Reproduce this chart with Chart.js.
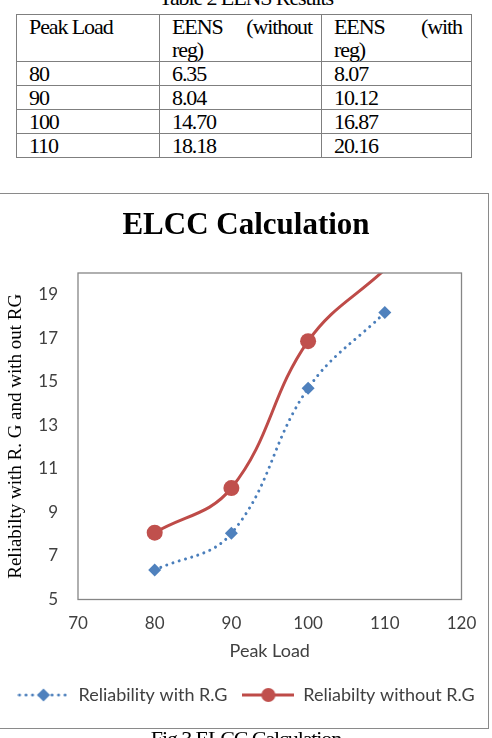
<!DOCTYPE html>
<html>
<head>
<meta charset="utf-8">
<script src="https://cdn.jsdelivr.net/npm/chart.js@4.4.1/dist/chart.umd.min.js"></script>
<style>
  html, body { margin: 0; padding: 0; background: #fff; }
  body { width: 492px; height: 738px; position: relative; overflow: hidden; }
  .cap {
    position: absolute; left: 0; width: 492px; text-align: center;
    font-family: "Liberation Serif", serif; font-size: 22px; line-height: 23px;
    letter-spacing: -1.1px; color: #000; white-space: nowrap;
  }
  #cap-top { top: -14.4px; }
  #cap-bot { top: 726.7px; }
  #eens {
    position: absolute; left: 16px; top: 14px; width: 455px;
    border-collapse: collapse; table-layout: fixed;
    font-family: "Liberation Serif", serif; font-size: 22px; letter-spacing: -1.1px; color: #000;
  }
  #eens td {
    border: 1.5px solid #7f7f7f; padding: 0 9px 0 12px; line-height: 23px;
    vertical-align: top; text-align: justify;
  }
  #eens tr.row td { height: 23px; }
  #box {
    position: absolute; left: -2px; top: 193px; width: 491px; height: 536px;
    border: 1.5px solid #8a8a8a; box-sizing: border-box;
  }
  #wrap { position: absolute; left: 0; top: 195px; width: 492px; height: 532px; }
</style>
</head>
<body>
<div class="cap" id="cap-top">Table 2 EENS Results</div>
<table id="eens">
  <colgroup><col style="width:143px"><col style="width:162px"><col style="width:150px"></colgroup>
  <tbody id="eens-body"></tbody>
</table>
<div id="box"></div>
<div id="wrap"><canvas id="elcc" width="492" height="532"></canvas></div>
<div class="cap" id="cap-bot">Fig 3 ELCC Calculation</div>

<script>
// 표 2 / 그림 3 데이터
const peakLoad = [80, 90, 100, 110];
const eensWithoutReg = [6.35, 8.04, 14.70, 18.18];   // 파란 점선: Reliability with R.G
const eensWithReg = [8.07, 10.12, 16.87, 20.16];     // 빨간 실선: Reliabilty without R.G
const tableHeads = ["Peak Load", "EENS (without reg)", "EENS (with reg)"];
const seriesNames = ["Reliability with R.G", "Reliabilty without R.G"];
const xTicks = [70, 80, 90, 100, 110, 120];
const yTicks = [5, 7, 9, 11, 13, 15, 17, 19];
const Y_MIN = 5, Y_MAX = 20;

const BLUE_LINE = "#4A7EBB", BLUE_MARK = "#4F81BD";
const RED_LINE = "#BE4B48", RED_MARK = "#C0504D";
const TICK_COLOR = "#404040";

// ---------- 표 ----------
function buildTable() {
  const body = document.getElementById("eens-body");
  const hd = document.createElement("tr");
  tableHeads.forEach((h) => {
    const td = document.createElement("td");
    td.textContent = h;
    hd.appendChild(td);
  });
  body.appendChild(hd);
  peakLoad.forEach((p, i) => {
    const tr = document.createElement("tr");
    tr.className = "row";
    [String(p), eensWithoutReg[i].toFixed(2), eensWithReg[i].toFixed(2)].forEach((t) => {
      const td = document.createElement("td");
      td.textContent = t;
      tr.appendChild(td);
    });
    body.appendChild(tr);
  });
}

// ---------- 범례 견본(선 + 마커) ----------
function swatch(kind) {
  const c = document.createElement("canvas");
  c.width = 52; c.height = 18;
  const g = c.getContext("2d");
  const cy = 9, cx = 26;
  g.lineWidth = 3;
  if (kind === "blue") {
    g.strokeStyle = BLUE_LINE;
    g.lineCap = "round";
    g.setLineDash([0.01, 6.5]);
    g.beginPath(); g.moveTo(2, cy); g.lineTo(50, cy); g.stroke();
    g.setLineDash([]);
    g.fillStyle = BLUE_MARK;
    g.beginPath();
    g.moveTo(cx - 6.5, cy); g.lineTo(cx, cy - 6.5); g.lineTo(cx + 6.5, cy); g.lineTo(cx, cy + 6.5);
    g.closePath(); g.fill();
  } else {
    g.strokeStyle = RED_LINE;
    g.beginPath(); g.moveTo(0, cy); g.lineTo(52, cy); g.stroke();
    g.fillStyle = RED_MARK;
    g.beginPath(); g.arc(cx, cy, 7, 0, Math.PI * 2); g.fill();
  }
  return c;
}

// 플롯 영역 테두리
const frame = {
  id: "frame",
  afterDraw(chart) {
    const a = chart.chartArea, ctx = chart.ctx;
    ctx.save();
    ctx.strokeStyle = "#868686";
    ctx.lineWidth = 1.3;
    ctx.strokeRect(a.left, a.top, a.right - a.left, a.bottom - a.top);
    ctx.restore();
  },
};

// 축 범위를 벗어난 점은 엑셀처럼 그리지 않음
const radiusIn = (r) => (c) => (c.raw && c.raw.y > Y_MAX ? 0 : r);

function buildChart() {
  Chart.defaults.font.family = "Lato";
  const swatches = [swatch("blue"), swatch("red")];
  const pts = (ys) => peakLoad.map((x, i) => ({ x, y: ys[i] }));

  new Chart(document.getElementById("elcc"), {
    type: "line",
    data: {
      datasets: [
        {
          label: seriesNames[0], data: pts(eensWithoutReg),
          borderColor: BLUE_LINE, borderWidth: 3, borderDash: [0.01, 6.5], borderCapStyle: "round",
          pointStyle: "rectRot", pointRadius: radiusIn(6.5), pointBackgroundColor: BLUE_MARK,
          pointBorderWidth: 0, tension: 0.4, clip: 0,
        },
        {
          label: seriesNames[1], data: pts(eensWithReg),
          borderColor: RED_LINE, borderWidth: 3,
          pointStyle: "circle", pointRadius: radiusIn(8), pointBackgroundColor: RED_MARK,
          pointBorderWidth: 0, tension: 0.4, clip: 0,
        },
      ],
    },
    options: {
      responsive: false, animation: false, devicePixelRatio: 1,
      layout: { padding: { left: 0, right: 0, top: 0, bottom: 13 } },
      plugins: {
        title: {
          display: true, text: "ELCC Calculation", color: "#000",
          font: { family: "Liberation Serif", size: 31, weight: "bold" },
          padding: { top: 12.4, bottom: 28.4 },
        },
        legend: {
          position: "bottom",
          labels: {
            color: TICK_COLOR, font: { size: 18 }, usePointStyle: true,
            pointStyleWidth: 52, padding: 15,
            generateLabels: (chart) =>
              Chart.defaults.plugins.legend.labels.generateLabels(chart).map((it, i) => {
                it.pointStyle = swatches[i];
                return it;
              }),
          },
        },
        tooltip: { enabled: false },
      },
      scales: {
        x: {
          type: "linear", min: 70, max: 120,
          afterBuildTicks: (s) => { s.ticks = xTicks.map((v) => ({ value: v })); },
          afterFit: (s) => { s.height = 71.5; s.paddingLeft = 0; s.paddingRight = 0; },
          grid: { display: false, drawTicks: false },
          border: { display: false },
          ticks: { color: TICK_COLOR, font: { size: 17 }, padding: 14.3, maxRotation: 0 },
          title: {
            display: true, text: "Peak Load", color: TICK_COLOR,
            font: { size: 18 }, padding: { top: 0, bottom: 9.2 },
          },
        },
        y: {
          type: "linear", min: Y_MIN, max: Y_MAX,
          afterBuildTicks: (s) => { s.ticks = yTicks.map((v) => ({ value: v })); },
          afterFit: (s) => { s.width = 78; s.paddingTop = 0; s.paddingBottom = 0; },
          grid: { display: false, drawTicks: false },
          border: { display: false },
          ticks: { color: TICK_COLOR, font: { size: 17 }, padding: 20 },
          title: {
            display: true, text: "Reliabilty with R. G and with out RG", color: "#000",
            font: { family: "Liberation Serif", size: 19 }, padding: { top: 4.6, bottom: 0 },
          },
        },
        // 오른쪽 여백용 빈 축
        yr: {
          type: "linear", position: "right", min: Y_MIN, max: Y_MAX,
          afterFit: (s) => { s.width = 30.5; s.paddingTop = 0; s.paddingBottom = 0; },
          grid: { display: false, drawTicks: false },
          border: { display: false },
          ticks: { display: false },
        },
      },
    },
    plugins: [frame],
  });
}

buildTable();
buildChart();
</script>
</body>
</html>
